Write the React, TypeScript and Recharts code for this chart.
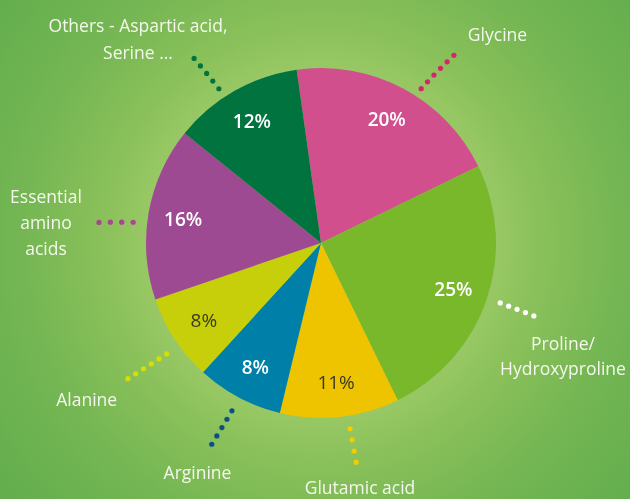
import React from "react";
import { PieChart, Pie, Cell } from "recharts";

const categories = [
  "Glycine",
  "Proline/Hydroxyproline",
  "Glutamic acid",
  "Arginine",
  "Alanine",
  "Essential amino acids",
  "Others - Aspartic acid, Serine ...",
];
const shares = [20, 25, 11, 8, 8, 16, 12];
const labelLines = [
  ["Glycine"],
  ["Proline/", "Hydroxyproline"],
  ["Glutamic acid"],
  ["Arginine"],
  ["Alanine"],
  ["Essential", "amino", "acids"],
  ["Others - Aspartic acid,", "Serine ..."],
];

const COLORS = ["#D24F8E", "#7AB82B", "#EEC300", "#0080A8", "#C6CF0A", "#9E4A93", "#00733E"];
const DOT_COLORS = ["#D6246E", "#FFFFFF", "#F5CC00", "#0B4F86", "#D7DE00", "#A8468F", "#00733E"];
const PCT_COLORS = ["#fff", "#fff", "#3b3a20", "#fff", "#3b3a20", "#fff", "#fff"];

// annotation layout: leader angle offsets (start/end) from slice mid-angle, radial offsets, dot count, text offset from centre
const LAYOUT = [
  { a1: -5, a2: -7.3, r1: 9, r2: 55, n: 6, tx: 176.5, ty: -202, lh: 27 },
  { a1: 0.5, a2: 0.1, r1: 14, r2: 50, n: 5, tx: 242, ty: 107, lh: 25 },
  { a1: 2.7, a2: 2.9, r1: 13, r2: 47, n: 4, tx: 39, ty: 251, lh: 25 },
  { a1: 0.05, a2: -0.5, r1: 15, r2: 54, n: 5, tx: -123.5, ty: 236, lh: 25 },
  { a1: 2.5, a2: 1.9, r1: 15, r2: 61, n: 6, tx: -234.3, ty: 163, lh: 25 },
  { a1: 3.7, a2: 4.7, r1: 14, r2: 48, n: 4, tx: -275, ty: -40.5, lh: 26 },
  { a1: 3.9, a2: 4.9, r1: 10, r2: 49, n: 5, tx: -183, ty: -211, lh: 27 },
];

const data = categories.map((name, i) => ({ name, value: shares[i] }));

const RAD = Math.PI / 180;
const FONT = "'Open Sans', 'DejaVu Sans', sans-serif";

const renderLabel = (props: any) => {
  const { cx, cy, midAngle, outerRadius, index, value } = props;
  const L = LAYOUT[index];
  const pr = outerRadius * 0.8;
  const px = cx + pr * Math.cos(-midAngle * RAD);
  const py = cy + pr * Math.sin(-midAngle * RAD);
  const dots = [];
  for (let k = 0; k < L.n; k++) {
    const t = k / (L.n - 1);
    const r = outerRadius + L.r1 + (L.r2 - L.r1) * t;
    const a = midAngle + L.a1 + (L.a2 - L.a1) * t;
    dots.push(
      <circle
        key={k}
        cx={cx + r * Math.cos(-a * RAD)}
        cy={cy + r * Math.sin(-a * RAD)}
        r={2.6}
        fill={DOT_COLORS[index]}
      />
    );
  }
  return (
    <g key={`lbl-${index}`}>
      <text
        x={px}
        y={py}
        textAnchor="middle"
        dominantBaseline="central"
        fill={PCT_COLORS[index]}
        fontSize={19}
        fontFamily={FONT}
        fontWeight={PCT_COLORS[index] === "#fff" ? 600 : 400}
      >
        {`${value}%`}
      </text>
      {dots}
      <text
        x={cx + L.tx}
        y={cy + L.ty}
        textAnchor="middle"
        fill="#F4F8EC"
        fontSize={17.5}
        fontFamily={FONT}
      >
        {labelLines[index].map((ln, j) => (
          <tspan key={j} x={cx + L.tx} dy={j === 0 ? 0 : L.lh}>
            {ln}
          </tspan>
        ))}
      </text>
    </g>
  );
};

export default function App() {
  return (
    <div
      style={{
        position: "fixed",
        left: 0,
        top: 0,
        width: 630,
        height: 499,
        overflow: "hidden",
        background:
          "radial-gradient(circle at 321px 243px, #a7cf6c 0px, #98c865 175px, #8bc15a 215px, #74b653 300px, #64ae4e 400px, #5fab4d 480px)",
      }}
    >
      <PieChart width={630} height={499} margin={{ top: 0, right: 0, bottom: 0, left: 0 }}>
        <Pie
          data={data}
          dataKey="value"
          nameKey="name"
          cx={321}
          cy={243}
          outerRadius={175}
          startAngle={98}
          endAngle={-262}
          stroke="none"
          label={renderLabel}
          labelLine={false}
          isAnimationActive={false}
        >
          {data.map((d, i) => (
            <Cell key={d.name} fill={COLORS[i]} />
          ))}
        </Pie>
      </PieChart>
    </div>
  );
}
